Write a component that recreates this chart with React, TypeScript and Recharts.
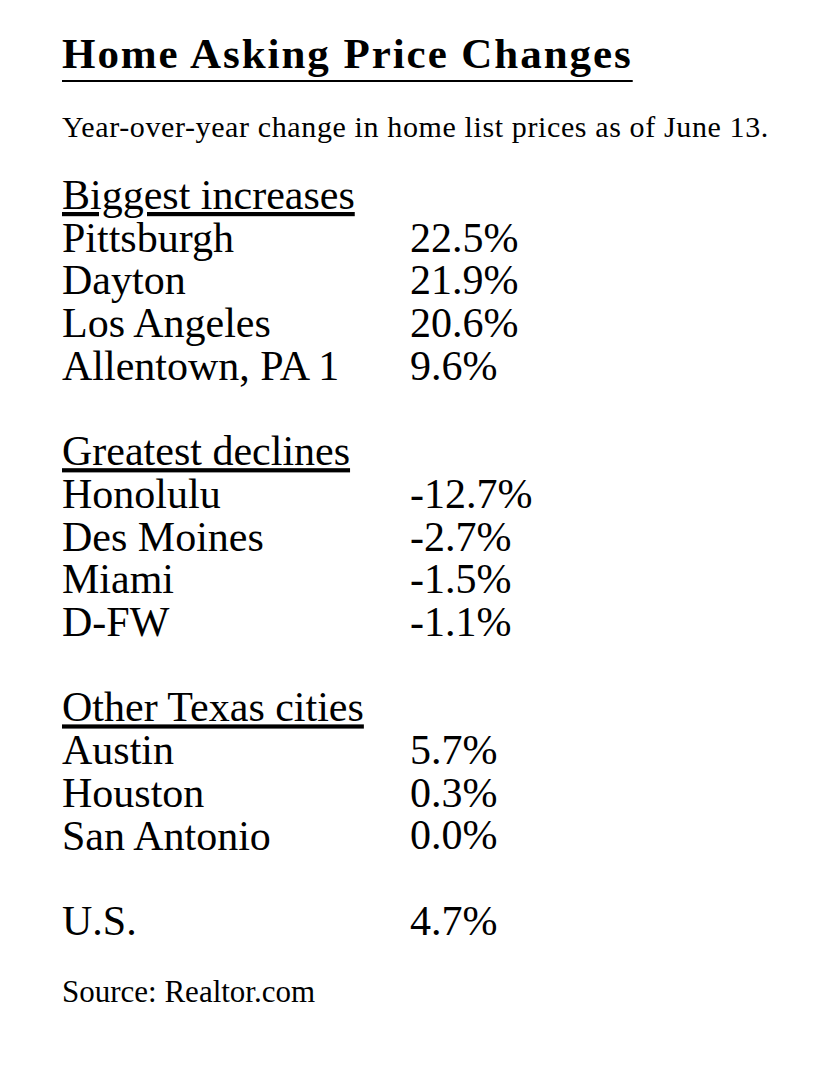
import React from 'react';
import { ComposedChart, Bar, XAxis, YAxis, LabelList } from 'recharts';

const TITLE = 'Home Asking Price Changes';
const SUBTITLE = 'Year-over-year change in home list prices as of June 13.';
const SOURCE = 'Source: Realtor.com';

const increaseCities = ['Pittsburgh', 'Dayton', 'Los Angeles', 'Allentown, PA 1'];
const increaseValues = [22.5, 21.9, 20.6, 9.6];
const declineCities = ['Honolulu', 'Des Moines', 'Miami', 'D-FW'];
const declineValues = [-12.7, -2.7, -1.5, -1.1];
const texasCities = ['Austin', 'Houston', 'San Antonio'];
const texasValues = [5.7, 0.3, 0.0];
const usLabel = 'U.S.';
const usValue = 4.7;

type Row = { id: string; label: string; value: number | null; header?: boolean };

function buildRows(): Row[] {
  const rows: Row[] = [];
  const push = (label: string, value: number | null, header = false) =>
    rows.push({ id: 'r' + rows.length, label, value, header });
  push('Biggest increases', null, true);
  increaseCities.forEach((c, i) => push(c, increaseValues[i]));
  push('', null);
  push('Greatest declines', null, true);
  declineCities.forEach((c, i) => push(c, declineValues[i]));
  push('', null);
  push('Other Texas cities', null, true);
  texasCities.forEach((c, i) => push(c, texasValues[i]));
  push('', null);
  push(usLabel, usValue);
  return rows;
}

const rows = buildRows();

const FONT = '"Liberation Serif", "Times New Roman", serif';
const ROW_FS = 42;
const LABEL_X = 62;
const VALUE_X = 410;
const BASE_DY = 13;

function NameTick(props: any) {
  const { y, payload } = props;
  const row = rows.find(r => r.id === payload.value);
  if (!row || !row.label) return <g />;
  return (
    <text
      x={LABEL_X}
      y={y + BASE_DY}
      fontFamily={FONT}
      fontSize={ROW_FS}
      fill="#000"
      textAnchor="start"
      style={row.header ? { textDecoration: 'underline', textUnderlineOffset: '8px', textDecorationThickness: '1.5px', textDecorationSkipInk: 'none' } : undefined}
    >
      {row.label}
    </text>
  );
}

function ValueLabel(props: any) {
  const { y, height, value } = props;
  if (value === null || value === undefined || y === undefined) return null;
  return (
    <text x={VALUE_X} y={y + height / 2 + BASE_DY} fontFamily={FONT} fontSize={ROW_FS} fill="#000">
      {Number(value).toFixed(1) + '%'}
    </text>
  );
}

export default function App() {
  return (
    <div style={{ position: 'absolute', left: 0, top: 0, width: 830, height: 1069, background: '#fff', fontFamily: FONT, color: '#000' }}>
      <div
        style={{
          position: 'absolute', left: 62, top: 68 - 0.8375 * 43, fontSize: 43, lineHeight: 1, fontWeight: 700,
          letterSpacing: '1.95px', whiteSpace: 'nowrap', textDecoration: 'underline',
          textDecorationThickness: '2px', textUnderlineOffset: '12px', textDecorationSkipInk: 'none',
        }}
      >
        {TITLE}
      </div>
      <div style={{ position: 'absolute', left: 62, top: 137 - 0.8375 * 30, fontSize: 30, lineHeight: 1, letterSpacing: '0.62px', whiteSpace: 'nowrap' }}>
        {SUBTITLE}
      </div>
      <div style={{ position: 'absolute', left: 0, top: 0 }}>
        <ComposedChart
          width={830}
          height={1069}
          data={rows}
          layout="vertical"
          margin={{ top: 174.65, bottom: 125.75, left: 0, right: 0 }}
        >
          <XAxis type="number" hide domain={[-15, 25]} />
          <YAxis
            type="category"
            dataKey="id"
            width={62}
            axisLine={false}
            tickLine={false}
            tick={(p: any) => <NameTick {...p} />}
            interval={0}
          />
          <Bar dataKey="value" fill="none" minPointSize={1} isAnimationActive={false}>
            <LabelList dataKey="value" content={(p: any) => <ValueLabel {...p} />} />
          </Bar>
        </ComposedChart>
      </div>
      <div style={{ position: 'absolute', left: 62, top: 1002 - 0.8375 * 31, fontSize: 31, lineHeight: 1, whiteSpace: 'nowrap' }}>
        {SOURCE}
      </div>
    </div>
  );
}
